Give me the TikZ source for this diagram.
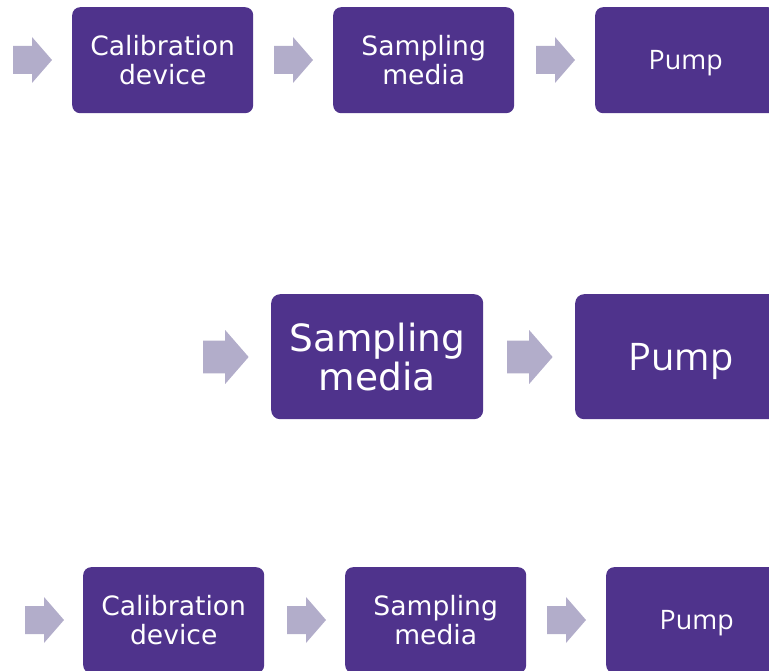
\documentclass[tikz,border=0pt]{standalone}
\usepackage{fontspec}
\newfontfamily\boxfont{DejaVu Sans}
\newfontfamily\pumpfont{Open Sans}
\definecolor{stepfill}{HTML}{4F338C}
\definecolor{arrowfill}{HTML}{B2ADCA}
\tikzset{
  stepbox/.style={fill=stepfill, text=white, align=center, inner sep=0pt, anchor=north west},
  smallbox/.style={stepbox, rounded corners=8pt, minimum width=181pt, minimum height=106pt,
    font=\boxfont\fontsize{26.6}{29}\selectfont},
  largebox/.style={stepbox, rounded corners=9pt, minimum width=212pt, minimum height=125pt,
    font=\boxfont\fontsize{37.5}{39}\selectfont},
  smallpump/.style={font=\pumpfont\fontsize{26.8}{30}\selectfont, text height=25pt, text depth=6.4pt},
  largepump/.style={font=\pumpfont\fontsize{38}{40}\selectfont, text height=37pt, text depth=9pt},
  blockarrow/.pic={
    \fill[arrowfill] (0,-14) -- (19,-14) -- (19,-23) -- (39,0) -- (19,23) -- (19,14) -- (0,14) -- cycle;
  },
}
\begin{document}
\begin{tikzpicture}[x=1pt, y=-1pt]
  \useasboundingbox (0,0) rectangle (769,671);
  \clip (0,0) rectangle (769,671);

  % first row
  \pic (a1) at (13,60) {blockarrow};
  \node[smallbox] (c1) at (72,7) {Calibration\\device};
  \pic (a2) at (274,60) {blockarrow};
  \node[smallbox] (s1) at (333,7) {Sampling\\media};
  \pic (a3) at (536,60) {blockarrow};
  \node[smallbox, smallpump] (p1) at (595,7) {Pump};

  % second row, enlarged
  \pic[scale=1.17] (b1) at (203,357) {blockarrow};
  \node[largebox] (s2) at (271,294) {Sampling\\media};
  \pic[scale=1.17] (b2) at (507,357) {blockarrow};
  \node[largebox, largepump] (p2) at (575,294) {Pump};

  % third row
  \pic (d1) at (25,620) {blockarrow};
  \node[smallbox] (c3) at (83,567) {Calibration\\device};
  \pic (d2) at (287,620) {blockarrow};
  \node[smallbox] (s3) at (345,567) {Sampling\\media};
  \pic (d3) at (547,620) {blockarrow};
  \node[smallbox, smallpump] (p3) at (606,567) {Pump};
\end{tikzpicture}
\end{document}
